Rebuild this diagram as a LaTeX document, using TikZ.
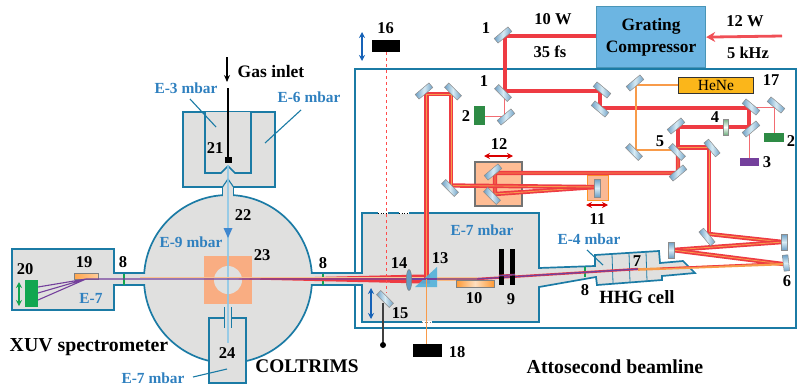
\documentclass[tikz,border=0pt]{standalone}
\usepackage{fontspec}
\setmainfont{Liberation Serif}
\usetikzlibrary{arrows.meta,shapes.geometric}
\definecolor{chline}{HTML}{1B7BA5}
\definecolor{chfill}{HTML}{E0E0DF}
\definecolor{txtblue}{HTML}{2F80BF}
\definecolor{bred}{HTML}{EE3B43}
\definecolor{borange}{HTML}{F89B4A}
\definecolor{bpurple}{HTML}{74409C}
\definecolor{mblue}{HTML}{5FA3D3}
\definecolor{mlight}{HTML}{D8ECF5}
\definecolor{vgreen}{HTML}{2E8B45}
\definecolor{agreen}{HTML}{12A650}
\definecolor{target}{HTML}{F9AD82}
\definecolor{jet}{HTML}{8CC8E8}
\definecolor{hene}{HTML}{FBB61A}
\definecolor{gcfill}{HTML}{6CB5E2}
\definecolor{mend}{HTML}{6C9FC6}
\tikzset{
 x=1pt,y=-1pt,
 chamber/.style={draw=chline,fill=chfill,line width=1.7pt,line join=miter},
 thinblue/.style={draw=chline,line width=1.1pt},
 lab/.style={font=\fontsize{16.5}{18}\selectfont\bfseries,inner sep=0pt,text=black},
 biglab/.style={font=\fontsize{19.8}{22}\selectfont\bfseries,inner sep=0pt,text=black},
 presslab/.style={font=\fontsize{15.4}{17}\selectfont\bfseries,inner sep=0pt,text=txtblue},
 beam/.style={draw=bred,line width=1.7pt,double=borange,double distance=.9pt,line join=miter},
 drive/.style={draw=bred,line width=4.6pt,line join=miter},
 probe/.style={draw=bred!75,line width=.9pt},
 mirror/.style={draw=gray!90,line width=.5pt,minimum width=#1,minimum height=6pt,inner sep=0pt,
   left color=mend,right color=mend,middle color=mlight},
 mirror/.default=18pt,
 vmirror/.style={draw=gray!90,line width=.5pt,minimum width=5.5pt,minimum height=#1,inner sep=0pt,
   top color=mend,bottom color=mend,middle color=mlight},
 vmirror/.default=16pt,
 dbl/.style={{Stealth[length=6pt,width=6pt]}-{Stealth[length=6pt,width=6pt]},line width=1.1pt},
}
\begin{document}
\begin{tikzpicture}
\useasboundingbox (0,0) rectangle (797,386);
% attosecond frame
\draw[draw=chline,line width=1.7pt] (355,69) rectangle (796,328);
% spectrometer, main chamber, sphere
\draw[chamber] (144,273)--(114,273)--(114,249)--(12,249)--(12,310)--(114,310)--(114,285)--(144,285);
\draw[chamber] (312,273)--(362,273)--(362,213)--(539,213)--(539,268)--(595,266)--(595,255)--(659,251)--(660,263)--(683,261)--(695,273)--(662,276)--(662,280)--(597,285)--(596,277)--(539,287)--(539,322)--(362,322)--(362,285)--(312,285);
\draw[chline,line width=.8pt] (612,254)--(613,283) (629,253)--(630,282) (646,252)--(647,281);
\draw[chamber] (228,279) circle (84);
\fill[chfill] (135,274.2) rectangle (150,283.8);
\fill[chfill] (306,274.2) rectangle (320,283.8);
% gas chamber
\draw[chamber] (222.5,196)--(222.5,187)--(183,187)--(183,112)--(275,112)--(275,187)--(233.5,187)--(233.5,196);
\fill[chfill] (223.4,185) rectangle (232.6,199);
\draw[chamber] (205,112)--(205,173)--(221,173)--(228,166)--(235,173)--(251,173)--(251,112);
\draw[chline,line width=1.1pt] (222.5,187)--(228,179)--(233.5,187);
% target
\fill[target] (204,256) rectangle (252,304);
\fill[chfill] (228,280) circle (14);
% jet
\draw[jet,line width=2.6pt,opacity=.85] (228,165)--(228,343);
\fill[cyan!55!blue!80!white] (223.5,228)--(232.5,228)--(228,238)--cycle;
% box 24
\draw[chamber] (209,318) rectangle (246,383);
\fill[chfill] (224,316) rectangle (232,320);
\draw[jet,line width=2.6pt,opacity=.85] (228,316)--(228,343);
\draw[chline,line width=1.8pt] (224.5,307)--(224.5,328) (231.5,307)--(231.5,328);
% windows
\draw[agreen,line width=1.3pt] (124,274)--(124,284.5) (323,274)--(323,285) (585,267)--(585,277);
\draw[white,line width=1.8pt] (378,213)--(388,213) (399,213)--(409,213) (422,322)--(432,322);
\draw[black,dotted,line width=.5pt] (378,213)--(388,213) (399,213)--(409,213);
\draw[gray,dotted,line width=.6pt] (422,322)--(432,322);
% pointers
\draw[thinblue] (190,99)--(216,127);
\draw[thinblue] (301,110)--(265,143);
\draw[thinblue] (587,250)--(603,265);
\draw[thinblue] (193,377)--(227,369);
% gas inlet
\draw[-{Stealth[length=7pt,width=6pt]},line width=1.5pt] (227,57)--(227,82);
\draw[line width=1.8pt] (228,88)--(228,157);
\fill (224.5,157) rectangle (231.5,163);
% spectrometer parts
\fill[agreen] (25,280) rectangle (38,307);
\draw[dbl,agreen] (19,282)--(19,306);
\node[draw=gray,line width=.6pt,minimum width=24pt,minimum height=6pt,inner sep=0pt,left color=orange!70,right color=orange!40!white] (grat) at (86,276) {};
% boxes behind beams
\draw[gray!90!black,line width=1.5pt,fill=orange!35!white!90!red] (475,162) rectangle (522,206);
\node[draw=orange!85!white,line width=1.2pt,fill=target!85!white,inner sep=0pt,anchor=north west,minimum width=21pt,minimum height=25pt] (box11) at (587,175) {};
% focused beam
\fill[bred] (228,279)--(423,274.5)--(430,274.5)--(430,283.5)--(423,283.5)--cycle;
\draw[borange!60,line width=.6pt] (140,277)--(477,277);
\draw[borange!70,line width=.6pt] (437,280)--(477,280);
\draw[bred,line width=2.4pt] (477,279)--(638,269);
\draw[borange,line width=1.2pt] (437,279)--(477,279);
\draw[red!70,dashed,line width=.7pt] (386,52)--(386,293);
% vertices
\coordinate (c0) at (596,36); \coordinate (c1) at (505,36); \coordinate (c2) at (505,91);
\coordinate (c3) at (600,91); \coordinate (c4) at (600,108); \coordinate (c5) at (749,108);
\coordinate (c6) at (749,127); \coordinate (c7) at (678,127); \coordinate (c8) at (678,152);
\coordinate (d1) at (678,147.5); \coordinate (d2) at (709,147.5); \coordinate (d3) at (709,234);
\coordinate (d4) at (783,242); \coordinate (d5) at (672,250); \coordinate (d6) at (783,264);
\coordinate (d7) at (638,269.5);
\coordinate (e1) at (678,152); \coordinate (e2) at (678,173); \coordinate (e3) at (495,173);
\coordinate (e4) at (495,194); \coordinate (e5) at (596,187); \coordinate (e6) at (451,185.5);
\coordinate (e7) at (451,94); \coordinate (e8) at (426.5,94); \coordinate (e9) at (426.5,279);
\draw[drive] (c0)--(c1)--(c2)--(c3)--(c4)--(c5)--(c6)--(c7)--(c8);
\draw[beam] (d1)--(d2)--(d3);
\draw[beam] (d3)--(d4);\draw[beam] (d4)--(d5);\draw[beam] (d5)--(d6);
\draw[borange,line width=2.6pt] (d6)--(d7);
\draw[bred,line width=.8pt] (783,262.5)--(660,268);
\draw[beam] (e1)--(e2)--(e3)--(e4)--(e5);
\draw[beam] (e5)--(e6);
\draw[beam] (e6)--(e7)--(e8)--(e9);
% purple
\draw[bpurple,line width=1.3pt] (86,279)--(477,279)--(638,269);
\draw[bpurple,line width=1.1pt] (86,279)--(38,287) (86,279)--(38,293) (86,279)--(38,300);
% HeNe line
\draw[borange,line width=1.1pt] (678,85)--(636,85)--(636,150)--(677,150);
\draw[borange,line width=1.1pt] (426.5,279)--(426.5,344);
% probe lines
\draw[probe] (504,94)--(504,116)--(480,116);
\draw[probe] (751,107)--(774,107)--(774,134);
\draw[probe] (749,130)--(749,158);
% mirrors
\node[mirror,rotate=40] (m1) at (503,35) {};
\node[mirror,rotate=-45] (m2) at (503,93) {};
\node[mirror,rotate=40] (m3) at (506,117) {};
\node[mirror,rotate=-40] (m4) at (602,90) {};
\node[mirror,rotate=-40] (m5) at (600,109) {};
\node[mirror,rotate=-40] (m6) at (751,107) {};
\node[mirror,rotate=40] (m7) at (751,129) {};
\node[mirror,rotate=-40] (m8) at (776,105) {};
\node[mirror,rotate=40] (m9) at (676,126) {};
\node[mirror,rotate=-45] (m10) at (677,152) {};
\node[mirror,rotate=40] (m11) at (678,173) {};
\node[mirror,rotate=-50] (m12) at (712,148) {};
\node[mirror,rotate=40] (m13) at (635,83) {};
\node[mirror,rotate=-45] (m14) at (634,152) {};
\node[mirror,rotate=-45] (m15) at (453,91.5) {};
\node[mirror,rotate=40] (m16) at (424,91) {};
\node[mirror,rotate=-45] (m17) at (450,188) {};
\node[mirror,rotate=-50] (m18) at (707,237) {};
\node[vmirror] (m20) at (784,242) {};
\node[vmirror] (m21) at (671,250) {};
\node[vmirror,rotate=6] (m22) at (786,263) {};
\node[vmirror=18pt] (m23) at (597,188) {};
\node[draw=gray!90,line width=.5pt,minimum width=5pt,minimum height=16pt,inner sep=0pt,top color=vgreen!70,bottom color=vgreen!70,middle color=white] (lens4) at (726,127) {};
\node[mirror,rotate=40] (m24) at (493,172) {};
\node[mirror,rotate=-45] (m25) at (492,196) {};
% blocks
\fill[vgreen] (474,106) rectangle (485,125);
\fill[vgreen] (764,133) rectangle (784,142);
\fill[bpurple] (740,158) rectangle (759,166);
\fill[black] (372,40) rectangle (400,52);
\fill[black] (413,344) rectangle (442,357);
% prism, lens, 10, 9
\fill[mblue!85!cyan,opacity=.9] (415,287)--(437,287)--(437,267)--cycle;
\draw[bred,line width=2pt] (411,279)--(428,279);
\draw[bpurple,line width=1.3pt] (411,279)--(437,279);
\draw[borange,line width=1.1pt] (426.5,279)--(426.5,287);
\node[ellipse,draw=gray,fill=mblue!80!gray,line width=.5pt,minimum width=5.5pt,minimum height=21pt,inner sep=0pt] (lens14) at (409,280) {};
\node[draw=gray,line width=.6pt,inner sep=0pt,minimum width=38pt,minimum height=7pt,left color=orange!80,right color=orange!80,middle color=orange!25!white] (m10b) at (475,283.5) {};
\fill[black] (499,249) rectangle (504,285);
\fill[black] (510,249) rectangle (515,285);
\draw[bred,line width=1.6pt] (499,275.5)--(515,274.5);
\draw[bpurple,line width=1.2pt] (499,275.7)--(515,274.7);
% flip mirror 15
\draw[black!75,line width=1.6pt] (383,303)--(383,345);
\fill (383,345) circle (3);
\node[mirror,rotate=-45] (m26) at (385,299) {};
% double arrows
\draw[dbl,chline!80!blue] (362,32)--(362,61);
\draw[dbl,chline!80!blue] (371,288)--(371,319);
\draw[dbl,red!85!black] (484,156)--(513,156);
\draw[dbl,red!85!black] (586,205)--(608,205);
% compressor + HeNe
\node[draw=chline!80!white,line width=1.2pt,fill=gcfill,anchor=north west,inner sep=0pt,minimum width=109pt,minimum height=61pt,align=center,font=\fontsize{17.4}{22.5}\selectfont\bfseries] (gc) at (596,6) {Grating\\Compressor};
\node[draw=black!80,line width=.8pt,fill=hene,anchor=north west,inner sep=0pt,minimum width=75pt,minimum height=16pt,font=\fontsize{15.5}{16}\selectfont] (henebox) at (678,77) {HeNe};
\coordinate (in12) at (782,36);
\draw[draw=bred!90!white,line width=2.8pt,-{Stealth[length=9pt,width=10pt]}] (in12)--(gc.east);
% labels
\node[lab] (l1) at (486,28) {1};
\node[lab] (l1b) at (484,81) {1};
\node[lab] (l2) at (466,116) {2};
\node[lab] (l2b) at (791,141) {2};
\node[lab] (l3) at (767,162) {3};
\node[lab] (l4) at (715,117) {4};
\node[lab] (l5) at (660,141) {5};
\node[lab] (l6) at (787,281) {6};
\node[lab] (l7) at (637,261) {7};
\node[lab] (l8a) at (123,262) {8};
\node[lab] (l8b) at (323,263) {8};
\node[lab] (l8c) at (585,290) {8};
\node[lab] (l9) at (511,299) {9};
\node[lab] (l10) at (474,298) {10};
\node[lab] (l11) at (597.5,219) {11};
\node[lab] (l12) at (499,144) {12};
\node[lab] (l13) at (440,258) {13};
\node[lab] (l14) at (399,263) {14};
\node[lab] (l15) at (400,313) {15};
\node[lab] (l16) at (385.5,28) {16};
\node[lab] (l17) at (771,80) {17};
\node[lab] (l18) at (457,352) {18};
\node[lab] (l19) at (84,262) {19};
\node[lab] (l20) at (25,269) {20};
\node[lab] (l21) at (215,148) {21};
\node[lab] (l22) at (243,215) {22};
\node[lab] (l23) at (262,255) {23};
\node[lab] (l24) at (227,353) {24};
\node[lab] (w10) at (553,19) {10 W};
\node[lab] (fs) at (550,52) {35 fs};
\node[lab] (w12) at (745,21) {12 W};
\node[lab] (khz) at (748,53) {5 kHz};
\node[lab,font=\fontsize{17.5}{19}\selectfont\bfseries] (gas) at (271,72) {Gas inlet};
\node[lab,font=\fontsize{18.7}{20}\selectfont\bfseries] (hhg) at (637,297) {HHG cell};
\node[biglab] (xuv) at (89,347) {XUV spectrometer};
\node[biglab,font=\fontsize{19.3}{20}\selectfont\bfseries] (col) at (307,366) {COLTRIMS};
\node[biglab] (atto) at (615,367) {Attosecond beamline};
\node[presslab] (p3) at (186,88) {E-3 mbar};
\node[presslab] (p6) at (309,97) {E-6 mbar};
\node[presslab] (p9) at (191,242) {E-9 mbar};
\node[presslab] (p7a) at (482,230) {E-7 mbar};
\node[presslab] (p4) at (589,239) {E-4 mbar};
\node[presslab] (p7b) at (153,378) {E-7 mbar};
\node[presslab] (p7c) at (91,298) {E-7};
\end{tikzpicture}
\end{document}
